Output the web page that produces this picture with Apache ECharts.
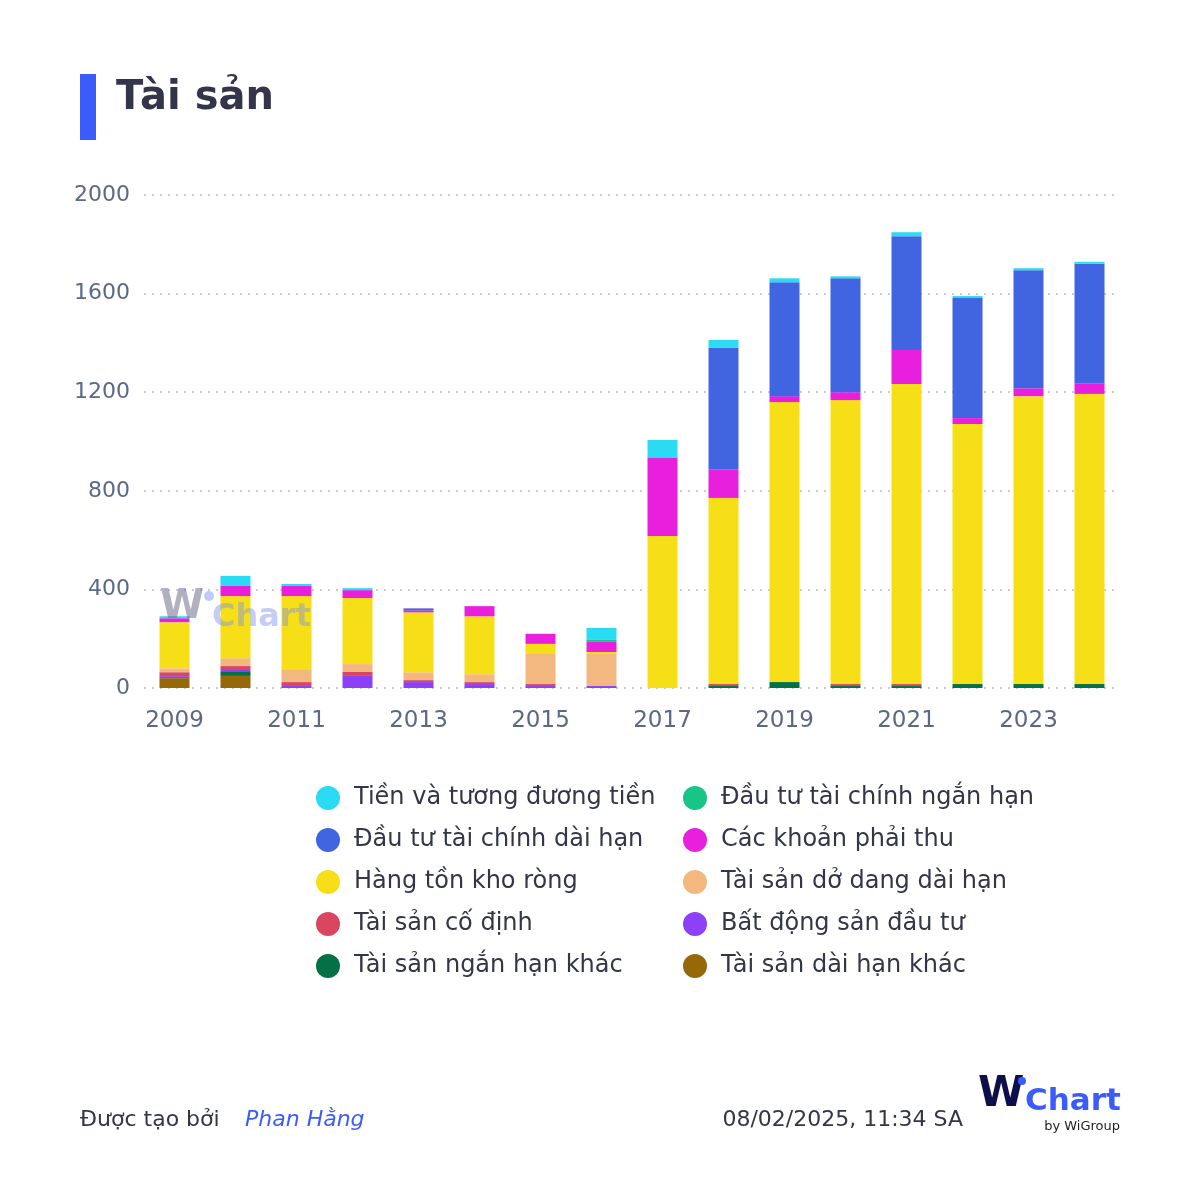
<!DOCTYPE html>
<html>
<head>
<meta charset="utf-8">
<script src="https://cdn.jsdelivr.net/npm/echarts@6/dist/echarts.min.js"></script>
<style>
html,body{margin:0;padding:0;background:#fff;}
#c{width:1200px;height:1180px;}
</style>
</head>
<body>
<div id="c"></div>
<script>
const years = ['2009','2010','2011','2012','2013','2014','2015','2016','2017','2018','2019','2020','2021','2022','2023','2024'];
const yTicks = [0, 400, 800, 1200, 1600, 2000];

// series values (stack order bottom -> top)
const taiSanDaiHanKhac = [40, 49, 0, 0, 0, 0, 0, 0, 0, 0, 0, 0, 0, 0, 0, 0];
const taiSanNganHanKhac = [0, 16, 0, 0, 0, 0, 0, 0, 0, 8, 24, 8, 8, 16, 16, 16];
const batDongSanDauTu = [8, 8, 8, 49, 24, 16, 8, 8, 0, 0, 0, 0, 0, 0, 0, 0];
const taiSanCoDinh = [16, 16, 16, 16, 8, 8, 8, 0, 0, 8, 0, 8, 8, 0, 0, 0];
const taiSanDoDang = [16, 32, 49, 32, 32, 32, 122, 130, 0, 0, 0, 0, 0, 0, 0, 0];
const hangTonKho = [187, 252, 300, 268, 243, 235, 41, 8, 617, 755, 1136, 1152, 1217, 1055, 1168, 1177];
const phaiThu = [16, 41, 41, 32, 8, 41, 41, 41, 316, 114, 24, 32, 138, 24, 32, 41];
const dauTuDaiHan = [0, 0, 0, 0, 8, 0, 0, 0, 0, 495, 462, 462, 462, 487, 479, 487];
const dauTuNganHan = [0, 0, 0, 0, 0, 0, 0, 8, 0, 0, 0, 0, 0, 0, 0, 0];
const tienVaTuongDuong = [8, 41, 8, 8, 0, 0, 0, 49, 73, 32, 16, 8, 16, 8, 8, 8];

const names = {
  tien: 'Tiền và tương đương tiền',
  dtnh: 'Đầu tư tài chính ngắn hạn',
  dtdh: 'Đầu tư tài chính dài hạn',
  pt: 'Các khoản phải thu',
  htk: 'Hàng tồn kho ròng',
  dd: 'Tài sản dở dang dài hạn',
  cd: 'Tài sản cố định',
  bds: 'Bất động sản đầu tư',
  nhk: 'Tài sản ngắn hạn khác',
  dhk: 'Tài sản dài hạn khác'
};

const stackSeries = [
  [names.dhk, taiSanDaiHanKhac, '#976808'],
  [names.nhk, taiSanNganHanKhac, '#037045'],
  [names.bds, batDongSanDauTu, '#8c40f8'],
  [names.cd, taiSanCoDinh, '#d8475f'],
  [names.dd, taiSanDoDang, '#f3b880'],
  [names.htk, hangTonKho, '#f7df17'],
  [names.pt, phaiThu, '#e820de'],
  [names.dtdh, dauTuDaiHan, '#4164e0'],
  [names.dtnh, dauTuNganHan, '#18c587'],
  [names.tien, tienVaTuongDuong, '#2adbf3']
];

const font = 'DejaVu Sans';
const textColor = '#333649';
const axisColor = '#5b6985';

const legendText = {
  color: textColor, fontSize: 24, fontFamily: font, lineHeight: 26, padding: [0, 0, 0, 9]
};
const legendCommon = {
  orient: 'vertical', icon: 'circle', itemWidth: 24, itemHeight: 24, itemGap: 16,
  padding: 0, textStyle: legendText, selectedMode: false
};

const chart = echarts.init(document.getElementById('c'), null, {renderer: 'canvas'});
chart.setOption({
  backgroundColor: '#ffffff',
  animation: false,
  grid: {left: 144, right: 80, top: 195, bottom: 492, containLabel: false},
  xAxis: {
    type: 'category', data: years, boundaryGap: true,
    axisLine: {show: false}, axisTick: {show: false},
    axisLabel: {interval: 1, color: axisColor, fontSize: 23, fontFamily: font, margin: 22}
  },
  yAxis: {
    type: 'value', min: yTicks[0], max: yTicks[yTicks.length - 1], interval: 400,
    axisLine: {show: false}, axisTick: {show: false},
    axisLabel: {color: axisColor, fontSize: 22, fontFamily: font, margin: 14, formatter: v => String(v)},
    splitLine: {show: true, lineStyle: {color: '#c9cdd7', width: 2, type: [2, 6]}}
  },
  legend: [
    Object.assign({left: 316, top: 785, data: [names.tien, names.dtdh, names.htk, names.cd, names.nhk]}, legendCommon),
    Object.assign({left: 683, top: 785, data: [names.dtnh, names.pt, names.dd, names.bds, names.dhk]}, legendCommon)
  ],
  series: stackSeries.map(([n, d, c]) => ({
    name: n, type: 'bar', stack: 'total', data: d, barWidth: 30,
    itemStyle: {color: c}, emphasis: {disabled: true}
  })),
  graphic: [
    {type: 'rect', left: 80, top: 74, shape: {width: 16, height: 66}, style: {fill: '#3b5bfb'}},
    {type: 'text', left: 116, top: 79, style: {text: 'Tài sản', fill: textColor, font: 'bold 40px "DejaVu Sans"'}},
    // watermark
    {type: 'text', left: 160, top: 588, z: 100, style: {text: 'W', fill: 'rgba(95,98,130,0.5)', font: 'bold 40px "DejaVu Sans"'}},
    {type: 'circle', z: 100, shape: {cx: 209, cy: 596, r: 5}, style: {fill: 'rgba(130,150,245,0.5)'}},
    {type: 'text', left: 212, top: 602, z: 100, style: {text: 'Chart', fill: 'rgba(125,145,240,0.45)', font: 'bold 32px "DejaVu Sans"'}},
    // footer
    {type: 'text', left: 80, top: 1109, style: {text: 'Được tạo bởi', fill: textColor, font: '22px "DejaVu Sans"'}},
    {type: 'text', left: 245, top: 1109, style: {text: 'Phan Hằng', fill: '#3b5bfb', font: 'italic 22px "DejaVu Sans"'}},
    {type: 'text', right: 237, top: 1109, style: {text: '08/02/2025, 11:34 SA', fill: textColor, font: '22px "DejaVu Sans"'}},
    // logo
    {type: 'text', left: 978, top: 1074, style: {text: 'W', fill: '#0d0f4a', font: 'bold 42px "DejaVu Sans"'}},
    {type: 'circle', shape: {cx: 1022, cy: 1081, r: 4}, style: {fill: '#3b5bfb'}},
    {type: 'text', left: 1025, top: 1086, style: {text: 'Chart', fill: '#3b5bfb', font: 'bold 31px "DejaVu Sans"'}},
    {type: 'text', right: 80, top: 1120, style: {text: 'by WiGroup', fill: '#222', font: '13px "DejaVu Sans"'}}
  ]
});
</script>
</body>
</html>
